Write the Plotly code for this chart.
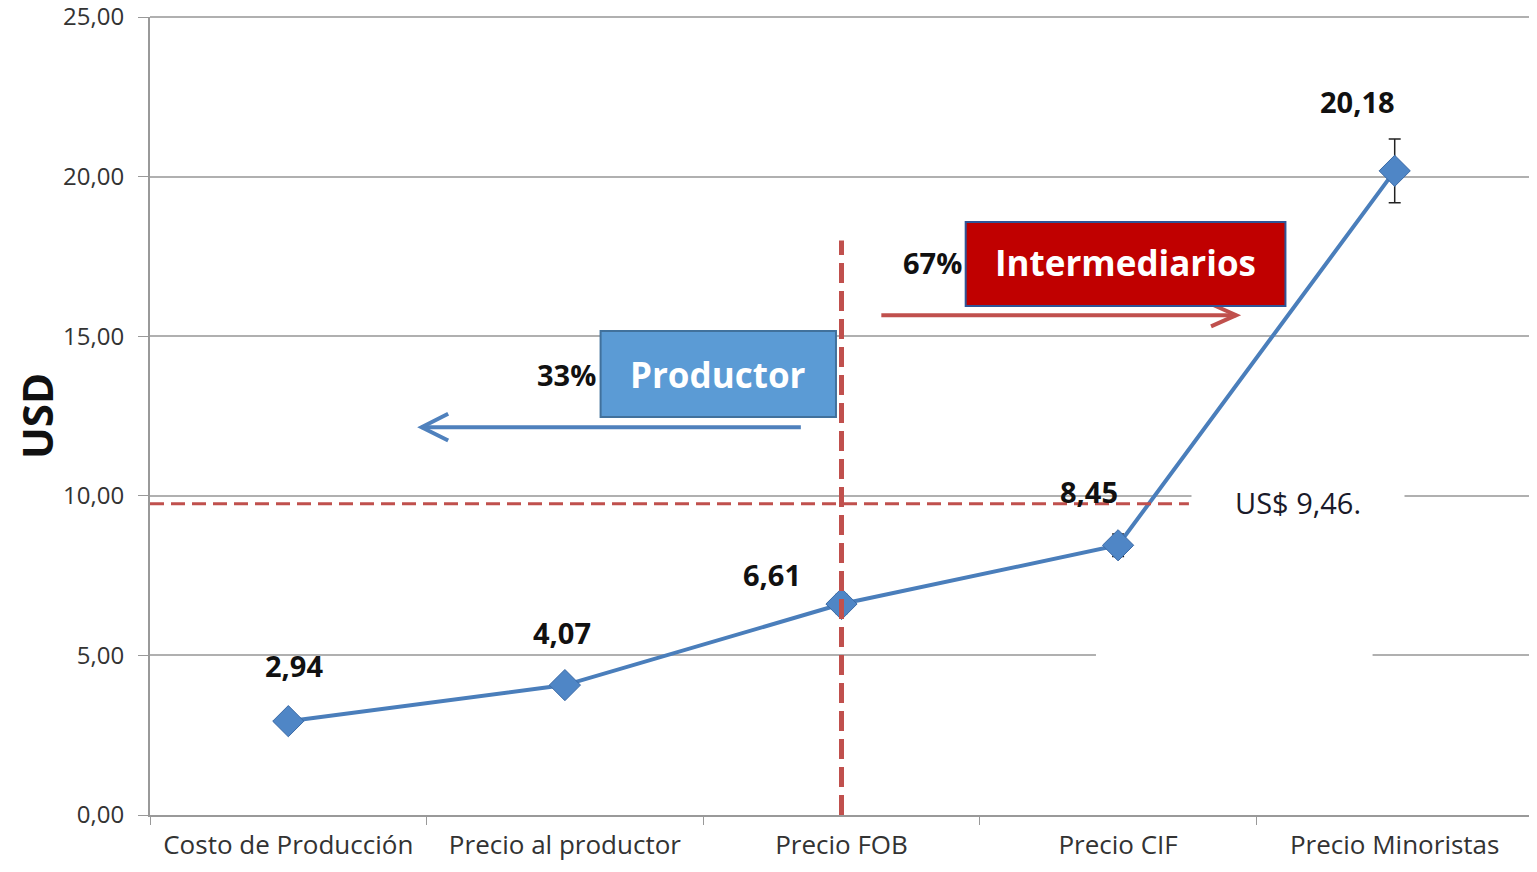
import plotly.graph_objects as go

categorias = ["Costo de Producción", "Precio al productor", "Precio FOB",
              "Precio CIF", "Precio Minoristas"]
precios = [2.94, 4.07, 6.61, 8.45, 20.18]
errores = [0.0, 0.0, 0.3, 0.35, 1.0]
etiquetas = ["2,94", "4,07", "6,61", "8,45", "20,18"]
promedio_texto = "US$ 9,46."
promedio_linea = 9.75
y_ticks = [0, 5, 10, 15, 20, 25]

AZUL = "#4a7ebb"
ROJO = "#c0504d"
FUENTE = "Open Sans"
GRIS = "#b0b0b0"

fig = go.Figure()

fig.add_trace(go.Scatter(
    x=categorias, y=precios,
    mode="lines+markers",
    line=dict(color=AZUL, width=4),
    marker=dict(symbol="diamond", size=24, color="#4f86c6",
                line=dict(color="#3b6aa6", width=1)),
    error_y=dict(type="data", array=errores, color="#222", thickness=1.5,
                 width=6),
    showlegend=False,
))

# etiquetas de datos
desplaz = [(6, 56), (-3, 53), (-70, 30), (-29, 54), (-37, 69)]
for cat, val, txt, (dx, dy) in zip(categorias, precios, etiquetas, desplaz):
    fig.add_annotation(x=cat, y=val, text="<b>%s</b>" % txt, showarrow=False,
                       xshift=dx, yshift=dy,
                       font=dict(family=FUENTE, size=29, color="#111"))

shapes = []
# linea superior de la rejilla (25,00)
shapes.append(dict(type="line", xref="paper", yref="paper", x0=0, x1=1,
                   y0=1, y1=1, line=dict(color=GRIS, width=2),
                   layer="between"))
# huecos blancos en la rejilla
shapes.append(dict(type="rect", xref="x", yref="y", x0=2.92, x1=3.92,
                   y0=4.8, y1=5.2, fillcolor="white", line_width=0,
                   layer="between"))

# linea horizontal de precio medio
shapes.append(dict(type="line", xref="x", yref="y", x0=-0.5, x1=3.256,
                   y0=promedio_linea, y1=promedio_linea,
                   line=dict(color=ROJO, width=3, dash="14px,7px")))
# linea vertical FOB
shapes.append(dict(type="line", xref="x", yref="y", x0=2.0, x1=2.0,
                   y0=0, y1=18.0,
                   line=dict(color=ROJO, width=5, dash="20px,8px")))

# flecha productor (izquierda)
ya = 12.15
shapes.append(dict(type="path", xref="x", yref="y",
                   path="M 1.853 %f L 0.482 %f" % (ya, ya),
                   line=dict(color="#4f81bd", width=4)))
shapes.append(dict(type="path", xref="x", yref="y",
                   path="M 0.578 %f L 0.482 %f L 0.578 %f"
                        % (ya + 0.42, ya, ya - 0.42),
                   line=dict(color="#4f81bd", width=4)))
# flecha intermediarios (derecha)
yb = 15.66
shapes.append(dict(type="path", xref="x", yref="y",
                   path="M 2.144 %f L 3.427 %f" % (yb, yb),
                   line=dict(color=ROJO, width=4)))
shapes.append(dict(type="path", xref="x", yref="y",
                   path="M 3.336 %f L 3.427 %f L 3.336 %f"
                        % (yb + 0.35, yb, yb - 0.35),
                   line=dict(color=ROJO, width=4)))

# cajas
shapes.append(dict(type="rect", xref="x", yref="y", x0=1.129, x1=1.98,
                   y0=12.47, y1=15.16, fillcolor="#5b9bd5",
                   line=dict(color="#41719c", width=2), layer="above"))
shapes.append(dict(type="rect", xref="x", yref="y", x0=2.449, x1=3.605,
                   y0=15.95, y1=18.58, fillcolor="#c00000",
                   line=dict(color="#2f5597", width=2), layer="above"))

fig.update_layout(shapes=shapes)

fig.add_annotation(x=1.555, y=13.8, xref="x", yref="y", text="<b>Productor</b>",
                   showarrow=False, font=dict(family=FUENTE, size=35,
                                              color="white"))
fig.add_annotation(x=3.027, y=17.3, xref="x", yref="y",
                   text="<b>Intermediarios</b>", showarrow=False,
                   font=dict(family=FUENTE, size=35, color="white"))
fig.add_annotation(x=1.129, y=13.8, xref="x", yref="y", text="<b>33%</b>",
                   showarrow=False, xanchor="right", xshift=-3,
                   font=dict(family=FUENTE, size=29, color="#111"))
fig.add_annotation(x=2.449, y=17.3, xref="x", yref="y", text="<b>67%</b>",
                   showarrow=False, xanchor="right", xshift=-2,
                   font=dict(family=FUENTE, size=29, color="#111"))
fig.add_annotation(x=3.649, y=promedio_linea, xref="x", yref="y",
                   text=promedio_texto, showarrow=False, yshift=2,
                   bgcolor="white", width=210, height=36,
                   font=dict(family=FUENTE, size=29, color="#1a1a2a"))

fig.update_xaxes(
    type="category", range=[-0.5, 4.5], tickson="boundaries",
    ticks="outside", ticklen=8, tickcolor="#999", showgrid=False,
    showline=True, linecolor="#999", linewidth=2, automargin=False,
    ticklabelstandoff=6,
    tickfont=dict(family=FUENTE, size=26, color="#333"),
)
fig.update_yaxes(
    range=[0, 25], tickvals=y_ticks, tickformat=".2f",
    ticks="outside", ticklen=10, tickcolor="#999",
    showline=True, linecolor="#999", linewidth=2, automargin=False,
    gridcolor=GRIS, gridwidth=2, zeroline=False,
    ticklabeloverflow="allow", ticklabelstandoff=9,
    tickfont=dict(family=FUENTE, size=24, color="#333"),
    title=dict(text="<b>USD</b>", standoff=6,
               font=dict(family=FUENTE, size=42, color="#111")),
)

# la pagina deja 8 px de margen en el body
fig.update_layout(
    width=1529, height=864,
    separators=",.",
    plot_bgcolor="white", paper_bgcolor="white",
    margin=dict(l=142, r=4, t=9, b=57),
)

fig.write_html("out.html")
